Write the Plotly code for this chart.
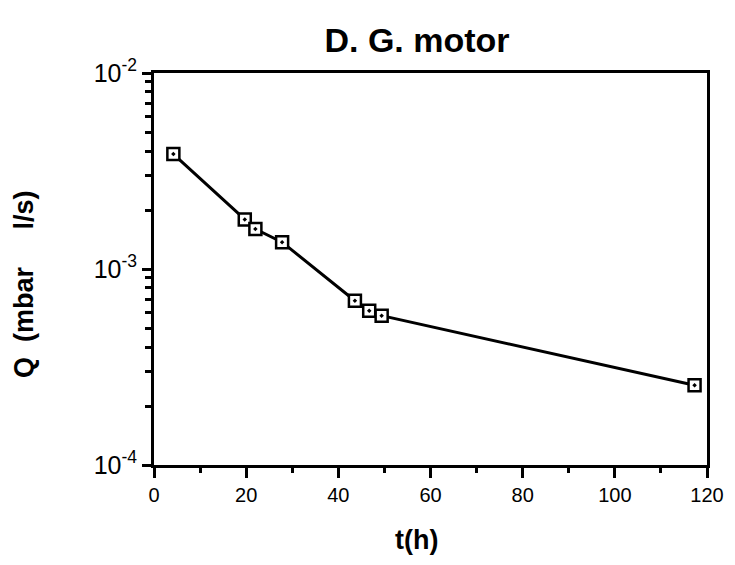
import plotly.graph_objects as go

# Data
t_hours = [4.2, 19.7, 22.0, 27.8, 43.6, 46.7, 49.4, 117.3]
q_leak = [3.86e-3, 1.79e-3, 1.60e-3, 1.37e-3, 6.89e-4, 6.12e-4, 5.78e-4, 2.55e-4]

x_ticks = [0, 20, 40, 60, 80, 100, 120]
x_minor = [10, 30, 50, 70, 90, 110]
y_ticks = [1e-4, 1e-3, 1e-2]
y_ticktext = ["10<sup>-4</sup>", "10<sup>-3</sup>", "10<sup>-2</sup>"]
y_minor = [m * 1e-4 for m in range(2, 10)] + [m * 1e-3 for m in range(2, 10)]

title_text = "D. G. motor"
x_title = "t(h)"
y_title = "Q  (mbar     l/s)"

FONT = "Liberation Sans, Arial, Helvetica, sans-serif"

# figure is placed inside the page's 8px body margin
W, H = 719, 549
L, R, T, B = 146, 699, 65, 457  # plot area edges in figure pixels

fig = go.Figure()
fig.add_trace(go.Scatter(
    x=t_hours, y=q_leak, mode="lines+markers",
    line=dict(color="black", width=3),
    marker=dict(symbol="square-dot", size=12, color="white",
                line=dict(color="black", width=2.5)),
    showlegend=False,
))

fig.update_layout(
    width=W, height=H,
    margin=dict(l=L, r=W - R, t=T, b=H - B, autoexpand=False),
    paper_bgcolor="white", plot_bgcolor="white",
    font=dict(family=FONT, color="black"),
    title=dict(text="<b>" + title_text + "</b>", x=409 / W, xanchor="center",
               xref="container", y=1 - 32 / H, yanchor="middle", yref="container",
               font=dict(size=34, family=FONT, color="black")),
)

fig.update_xaxes(
    range=[0, 120], tickvals=x_ticks, ticktext=[str(v) for v in x_ticks],
    ticks="outside", ticklen=10, tickwidth=2.5, tickcolor="black",
    minor=dict(tickvals=x_minor, ticks="outside", ticklen=5, tickwidth=2.5, tickcolor="black"),
    showline=True, linewidth=3, linecolor="black", mirror=True,
    showgrid=False, zeroline=False, automargin=False,
    tickfont=dict(size=20, family=FONT, color="black"),
)
fig.update_yaxes(
    type="log", range=[-4, -2], tickvals=y_ticks, ticktext=y_ticktext,
    ticks="outside", ticklen=9, tickwidth=2.5, tickcolor="black",
    minor=dict(tickvals=y_minor, ticks="outside", ticklen=6, tickwidth=2.5, tickcolor="black"),
    showline=True, linewidth=3, linecolor="black", mirror=True,
    showgrid=False, zeroline=False, automargin=False,
    tickfont=dict(size=25, family=FONT, color="black"),
)

fig.add_annotation(text="<b>" + x_title + "</b>", xref="paper", yref="paper",
                   x=(408 - L) / (R - L), y=-(532 - B) / (B - T),
                   xanchor="center", yanchor="middle", showarrow=False,
                   font=dict(size=27, family=FONT, color="black"))
fig.add_annotation(text="<b>" + y_title + "</b>", xref="paper", yref="paper",
                   x=-(L - 16) / (R - L), y=(B - 276) / (B - T),
                   xanchor="center", yanchor="middle", showarrow=False, textangle=-90,
                   font=dict(size=27, family=FONT, color="black"))

fig.write_html("out.html")
